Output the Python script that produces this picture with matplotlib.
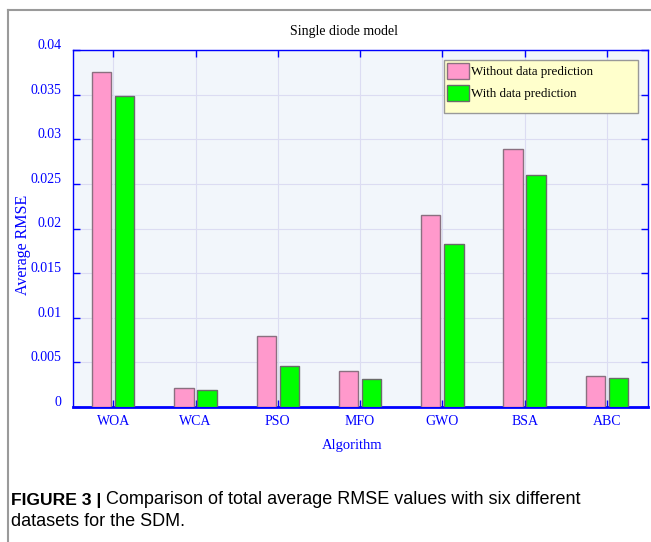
import numpy as np
import matplotlib.pyplot as plt
from matplotlib.lines import Line2D
from matplotlib.patches import Rectangle

algoritmos = ['WOA', 'WCA', 'PSO', 'MFO', 'GWO', 'BSA', 'ABC']
sem_predicao = [0.0375, 0.0021, 0.0079, 0.0040, 0.0215, 0.0289, 0.0035]
com_predicao = [0.0348, 0.0019, 0.0046, 0.0031, 0.0183, 0.0260, 0.0032]
yticks = [0, 0.005, 0.01, 0.015, 0.02, 0.025, 0.03, 0.035, 0.04]
ytick_labels = ['0', '0.005', '0.01', '0.015', '0.02', '0.025', '0.03', '0.035', '0.04']

W, H = 651, 542
fig = plt.figure(figsize=(W/100, H/100), dpi=100)
fig.patch.set_facecolor('white')

#moldura cinza
fig.add_artist(Line2D([8/W, 8/W], [0, 1-10/H], color='#9a9a9a', lw=1.5))
fig.add_artist(Line2D([8/W, 1], [1-10/H, 1-10/H], color='#9a9a9a', lw=1.5))

AX_L, AX_T, AX_W, AX_H = 73, 50, 575, 357
ax = fig.add_axes([AX_L/W, 1-(AX_T+AX_H)/H, AX_W/W, AX_H/H])
ax.set_facecolor('#f2f6fb')

def px2ax(x, y): #pixel da figura -> fracao do eixo
	return ((x-AX_L)/AX_W, (AX_T+AX_H-y)/AX_H)

ind = np.arange(len(algoritmos))
width = 0.235
ax.bar(ind - 0.14, sem_predicao, width, color='#ff99cc', edgecolor='#8a7080', lw=1, label='Without data prediction', zorder=3)
ax.bar(ind + 0.14, com_predicao, width, color='#00ff00', edgecolor='#6a6a6a', lw=1, label='With data prediction', zorder=3)

ax.set_xlim(-0.49, 6.5)
ax.set_ylim(0, 0.04)
ax.set_xticks(ind)
ax.set_xticklabels(algoritmos, fontfamily='Liberation Serif', fontsize=10, color='blue')
ax.set_yticks(yticks)
ax.set_yticklabels([])
for y, lbl in zip(yticks, ytick_labels): #rotulos do eixo y um pouco acima do tick
	ax.annotate(lbl, xy=(0, y), xycoords=('axes fraction', 'data'), xytext=(-8.5, 3.3),
		textcoords='offset points', ha='right', va='center', fontfamily='Liberation Serif', fontsize=10, color='blue')
ax.tick_params(direction='in', length=5, width=1, color='blue', top=True, right=True)
ax.tick_params(axis='x', pad=6)
ax.grid(True, color='#dcdcf2', lw=0.8, zorder=0)
ax.set_axisbelow(True)
for s in ax.spines.values():
	s.set_color('blue')
	s.set_linewidth(1)
ax.spines['bottom'].set_linewidth(2)

fig.text(23/W, 1-245/H, 'Average RMSE', rotation=90, ha='center', va='center', fontfamily='Liberation Serif', fontsize=11.5, color='blue')
fig.text(352/W, 1-446/H, 'Algorithm', ha='center', va='center', fontfamily='Liberation Serif', fontsize=10.5, color='blue')
fig.text(344/W, 1-31/H, 'Single diode model', ha='center', va='center', fontfamily='Liberation Serif', fontsize=10, color='black')

#caixa da legenda
x0, y0 = px2ax(444, 113)
x1, y1 = px2ax(638, 60)
ax.add_patch(Rectangle((x0, y0), x1-x0, y1-y0, transform=ax.transAxes, facecolor='#ffffcc',
	edgecolor='#999999', lw=1, zorder=5))
leg = ax.legend(loc='upper left', bbox_to_anchor=px2ax(447, 63), borderaxespad=0, borderpad=0, frameon=False,
	handlelength=1.7, handleheight=1.55, handletextpad=0.15, labelspacing=0.42,
	prop={'family': 'Liberation Serif', 'size': 9.4})
leg.set_zorder(6)

#legenda da figura
fig.text(11/W, 1-500/H, 'FIGURE 3 |', ha='left', va='center', fontfamily='Liberation Sans', fontweight='bold', fontsize=12.6)
fig.text(106/W, 1-500/H, 'Comparison of total average RMSE values with six different', ha='left', va='center', fontfamily='Liberation Sans', fontsize=13)
fig.text(11/W, 1-521/H, 'datasets for the SDM.', ha='left', va='center', fontfamily='Liberation Sans', fontsize=13)

plt.savefig('out.png', dpi=100)
